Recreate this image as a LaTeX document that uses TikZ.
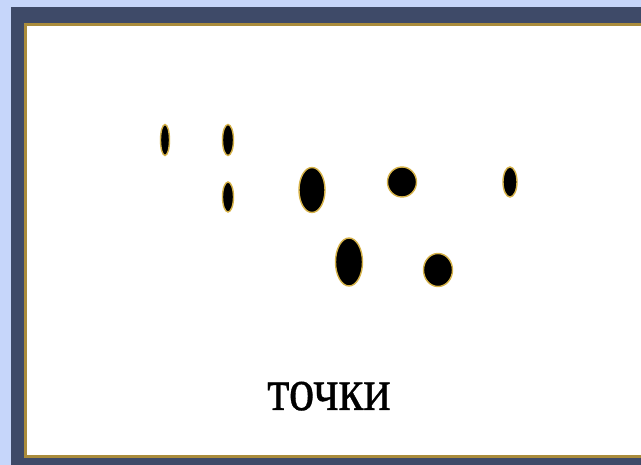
\documentclass[tikz,border=0pt]{standalone}
\usepackage{fontspec}
\setmainfont{Liberation Serif}
\newfontfamily\capfont[FakeBold=0.6]{Liberation Serif}
\usetikzlibrary{shapes.geometric}
\usepackage{xcolor}
\definecolor{slideblue}{RGB}{198,214,250}
\definecolor{slidedark}{RGB}{62,74,104}
\definecolor{framegold}{RGB}{170,140,60}
\definecolor{dotrim}{RGB}{214,178,72}

\begin{document}
\begin{tikzpicture}[
  x=1pt, y=-1pt,
  dot/.style={ellipse, draw=dotrim, fill=black, line width=1.4pt, inner sep=0pt},
  caption/.style={font=\capfont\fontsize{60}{60}\selectfont, xscale=0.85, inner sep=0pt},
]
\useasboundingbox (0,0) rectangle (641,465);

% Slide background
\fill[slideblue] (0,0) rectangle (641,465);
\fill[slidedark] (11,7) rectangle (641,465);

% Panel
\filldraw[fill=white, draw=framegold, line width=3pt] (25,25) rectangle (643,457);

% Dots
\node[dot, minimum width=9pt,  minimum height=31pt] (d1) at (165,140) {};
\node[dot, minimum width=11pt, minimum height=31pt] (d2) at (228,140) {};
\node[dot, minimum width=11pt, minimum height=30pt] (d3) at (228,197) {};
\node[dot, minimum width=26pt, minimum height=45pt] (d4) at (312,190) {};
\node[dot, minimum width=29pt, minimum height=30pt] (d5) at (402,182) {};
\node[dot, minimum width=14pt, minimum height=30pt] (d6) at (510,182) {};
\node[dot, minimum width=27pt, minimum height=48pt] (d7) at (349,262) {};
\node[dot, minimum width=29pt, minimum height=33pt] (d8) at (438,270) {};

% Caption
\node[caption, anchor=base] (label) at (329,410) {точки};

\end{tikzpicture}
\end{document}
